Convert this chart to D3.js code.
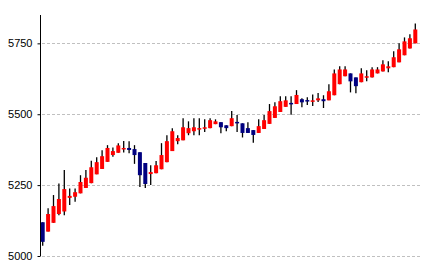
<!DOCTYPE html>
<html>
<head>
<meta charset="utf-8">
<script src="https://cdn.jsdelivr.net/npm/d3@7"></script>
<style>
  html, body { margin: 0; padding: 0; background: #fff; }
  #chart { width: 427px; height: 270px; }
</style>
</head>
<body>
<div id="chart"></div>
<script>
// OHLC values, one entry per candle
const open = [5119,5086,5117,5148,5157,5205,5209,5221,5240,5257,
  5288,5307,5332,5356,5364,5379,5381,5377,5366,5328,
  5289,5292,5306,5331,5370,5405,5408,5433,5440,5449,
  5451,5451,5465,5472,5461,5458,5473,5468,5451,5444,
  5434,5448,5466,5487,5508,5526,5540,5536,5553,5550,
  5546,5549,5553,5549,5567,5606,5634,5644,5630,5613,
  5630,5630,5644,5651,5662,5666,5683,5708,5732,5750];
const high = [5119,5168,5215,5256,5303,5238,5238,5285,5303,5336,
  5348,5373,5391,5383,5398,5406,5405,5391,5366,5328,
  5320,5335,5398,5426,5451,5426,5486,5475,5486,5486,
  5482,5486,5482,5472,5461,5511,5497,5468,5472,5444,
  5482,5497,5536,5542,5563,5563,5563,5585,5556,5560,
  5570,5575,5567,5606,5658,5669,5669,5644,5630,5662,
  5655,5666,5666,5690,5687,5722,5750,5771,5782,5820];
const low = [5036,5086,5117,5144,5144,5180,5191,5221,5240,5257,
  5288,5307,5332,5350,5364,5365,5362,5325,5243,5240,
  5250,5292,5306,5331,5370,5394,5408,5426,5426,5426,
  5437,5451,5465,5433,5440,5458,5437,5418,5434,5399,
  5434,5448,5466,5487,5508,5526,5498,5536,5525,5533,
  5529,5543,5522,5549,5567,5606,5634,5577,5574,5613,
  5616,5630,5644,5651,5648,5666,5683,5708,5732,5750];
const close = [5050,5148,5176,5201,5236,5212,5225,5261,5276,5313,
  5331,5352,5381,5370,5390,5381,5374,5356,5285,5254,
  5296,5320,5356,5405,5440,5416,5454,5451,5454,5451,
  5454,5479,5475,5454,5451,5486,5471,5434,5434,5427,
  5458,5479,5511,5528,5546,5549,5538,5568,5542,5549,
  5549,5556,5546,5581,5644,5658,5658,5616,5599,5644,
  5634,5658,5658,5676,5669,5701,5729,5757,5768,5799];
const yTicks = [5000, 5250, 5500, 5750];

const width = 427, height = 270;
const margin = { top: 15, right: 6, bottom: 14, left: 40 };

const data = open.map((o, i) => ({ i, o, h: high[i], l: low[i], c: close[i] }));

const svg = d3.select('#chart')
  .append('svg')
  .attr('width', width)
  .attr('height', height);

const x = d3.scaleBand()
  .domain(data.map(d => d.i))
  .range([margin.left, width - margin.right - 3])
  .paddingInner(0.26)
  .paddingOuter(0.13);

const y = d3.scaleLinear()
  .domain([5000, 5850])
  .range([height - margin.bottom, margin.top]);

// dashed grid lines
svg.append('g')
  .selectAll('line')
  .data(yTicks)
  .join('line')
  .attr('x1', margin.left + 2)
  .attr('x2', width - 6)
  .attr('y1', d => Math.round(y(d)) + 0.5)
  .attr('y2', d => Math.round(y(d)) + 0.5)
  .style('stroke', '#c0c0c0')
  .style('stroke-dasharray', '3,2');

const candle = svg.append('g')
  .selectAll('g')
  .data(data)
  .join('g');

candle.append('line')
  .attr('x1', d => x(d.i) + x.bandwidth() / 2)
  .attr('x2', d => x(d.i) + x.bandwidth() / 2)
  .attr('y1', d => y(d.h))
  .attr('y2', d => y(d.l))
  .style('stroke', '#000')
  .style('stroke-width', 1.3);

candle.append('rect')
  .attr('x', d => x(d.i))
  .attr('width', x.bandwidth())
  .attr('y', d => y(Math.max(d.o, d.c)))
  .attr('height', d => Math.max(1.5, Math.abs(y(d.o) - y(d.c))))
  .style('fill', d => d.c >= d.o ? '#ff0000' : '#000080');

// left axis
const axis = svg.append('g')
  .attr('transform', `translate(${margin.left + 0.5},0)`)
  .call(d3.axisLeft(y).tickValues(yTicks).tickFormat(d3.format('d'))
    .tickSize(3).tickPadding(5).tickSizeOuter(0));

axis.select('.domain').remove();
axis.append('line')
  .attr('y1', margin.top)
  .attr('y2', height - margin.bottom)
  .style('stroke', '#000');

axis.selectAll('text')
  .style('font-family', 'Arial, "Liberation Sans", sans-serif')
  .style('font-size', '11px')
  .style('fill', '#000');
</script>
</body>
</html>
